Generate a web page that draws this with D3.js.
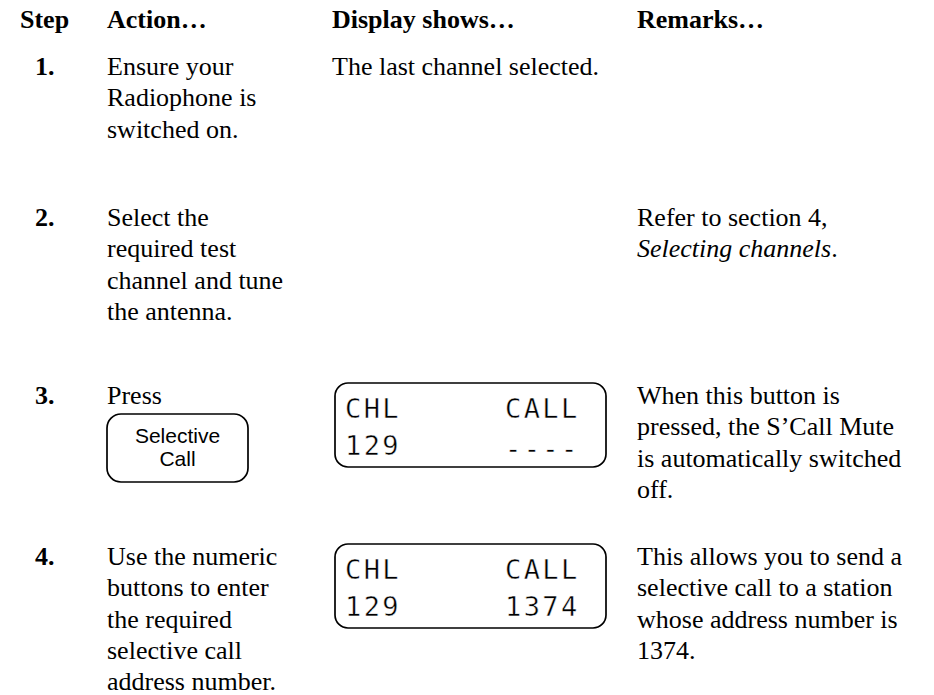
<!DOCTYPE html>
<html>
<head>
<meta charset="utf-8">
<script src="https://cdn.jsdelivr.net/npm/d3@7"></script>
<style>
  html, body { margin: 0; padding: 0; background: #fff; }
  svg { display: block; }
</style>
</head>
<body>
<div id="chart"></div>
<script>
// ---- data ----
const headers = ["Step", "Action\u2026", "Display shows\u2026", "Remarks\u2026"];
const steps = ["1.", "2.", "3.", "4."];
const actions = [
  ["Ensure your", "Radiophone is", "switched on."],
  ["Select the", "required test", "channel and tune", "the antenna."],
  ["Press"],
  ["Use the numeric", "buttons to enter", "the required", "selective call", "address number."]
];
const buttonLabels = [null, null, ["Selective", "Call"], null];
const displayText = ["The last channel selected.", null, null, null];
const lcdTop = [null, null, ["CHL", "CALL"], ["CHL", "CALL"]];
const lcdBottom = [null, null, ["129", "----"], ["129", "1374"]];
const remarks = [
  [],
  [[{t: "Refer to section 4,"}], [{t: "Selecting channels", i: true}, {t: "."}]],
  [[{t: "When this button is"}], [{t: "pressed, the S\u2019Call Mute"}], [{t: "is automatically switched"}], [{t: "off."}]],
  [[{t: "This allows you to send a"}], [{t: "selective call to a station"}], [{t: "whose address number is"}], [{t: "1374."}]]
];

// ---- layout ----
const W = 934, H = 695;
const serif = "'Liberation Serif', 'Times New Roman', serif";
const sans = "'Liberation Sans', Arial, sans-serif";
const mono = "'DejaVu Sans Mono', monospace";
const fs = 26, lh = 31.3;

const colX = d3.scaleOrdinal().domain(headers).range([20, 107, 332, 637]);
const rowY = d3.scaleOrdinal().domain(steps).range([75, 226, 404, 565]);
const lineY = d3.scaleLinear().domain([0, 1]).range([0, lh]);

const svg = d3.select("#chart").append("svg")
  .attr("width", W).attr("height", H);

// header
svg.selectAll("text.hdr").data(headers).join("text")
  .attr("class", "hdr")
  .attr("x", d => colX(d)).attr("y", 28)
  .attr("font-family", serif).attr("font-size", fs).attr("font-weight", "bold")
  .text(d => d);

steps.forEach((s, i) => {
  const y0 = rowY(s);
  // step number
  svg.append("text").attr("x", 35).attr("y", y0)
    .attr("font-family", serif).attr("font-size", fs).attr("font-weight", "bold")
    .text(s);
  // action lines
  svg.append("g").selectAll("text").data(actions[i]).join("text")
    .attr("x", colX(headers[1])).attr("y", (d, j) => y0 + lineY(j))
    .attr("font-family", serif).attr("font-size", fs)
    .text(d => d);
  // button
  if (buttonLabels[i]) {
    const bx = 107, by = y0 + 10, bw = 141, bh = 68;
    svg.append("rect").attr("x", bx).attr("y", by).attr("width", bw).attr("height", bh)
      .attr("rx", 14).attr("fill", "none").attr("stroke", "#000").attr("stroke-width", 1.7);
    svg.append("g").selectAll("text").data(buttonLabels[i]).join("text")
      .attr("x", bx + bw / 2).attr("y", (d, j) => by + 29 + j * 23)
      .attr("text-anchor", "middle")
      .attr("font-family", sans).attr("font-size", 21)
      .text(d => d);
  }
  // display column
  if (displayText[i]) {
    svg.append("text").attr("x", colX(headers[2])).attr("y", y0)
      .attr("font-family", serif).attr("font-size", fs).text(displayText[i]);
  }
  if (lcdTop[i]) {
    const lx = 335, ly = y0 - 21, lw = 271, lhgt = 84;
    svg.append("rect").attr("x", lx).attr("y", ly).attr("width", lw).attr("height", lhgt)
      .attr("rx", 13).attr("fill", "none").attr("stroke", "#000").attr("stroke-width", 1.7);
    const rowsL = [lcdTop[i], lcdBottom[i]];
    rowsL.forEach((pair, k) => {
      const by = ly + 35 + k * 37;
      const common = sel => sel
        .attr("font-family", mono).attr("font-size", 27)
        .attr("letter-spacing", 2.4).attr("fill", "#000")
        .attr("stroke", "#fff").attr("stroke-width", 0.45);
      svg.append("text").attr("x", 345).attr("y", by).call(common).text(pair[0]);
      const isDash = pair[1] === "----";
      svg.append("text").attr("x", 505).attr("y", by + (isDash ? 3 : 0)).call(common).text(pair[1]);
    });
  }
  // remarks
  remarks[i].forEach((line, j) => {
    const t = svg.append("text").attr("x", colX(headers[3])).attr("y", y0 + lineY(j))
      .attr("font-family", serif).attr("font-size", fs);
    t.selectAll("tspan").data(line).join("tspan")
      .attr("font-style", d => d.i ? "italic" : null)
      .text(d => d.t);
  });
});
</script>
</body>
</html>
